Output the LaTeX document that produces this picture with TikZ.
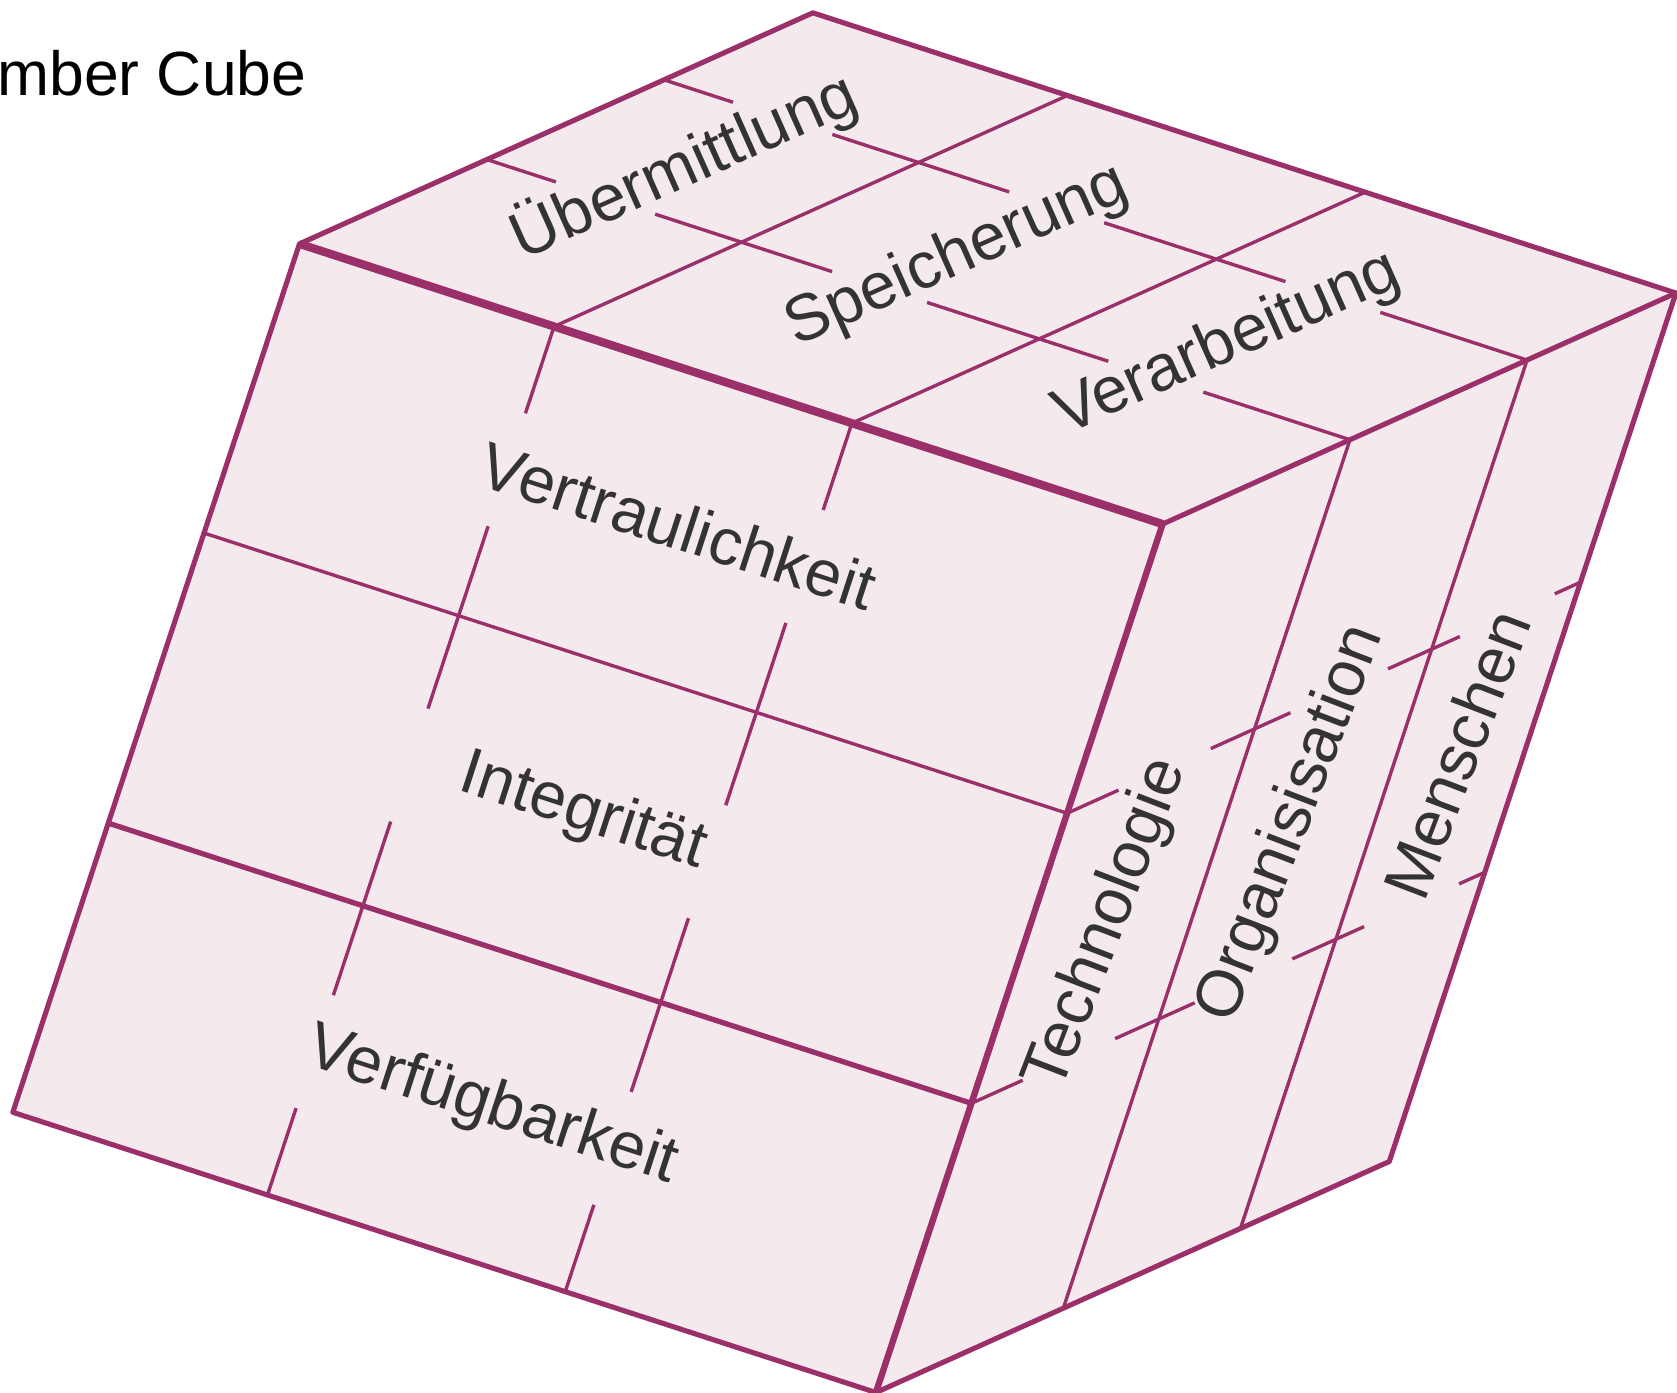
\documentclass[tikz,border=0pt]{standalone}
\usepackage{fontspec}
\setmainfont{Liberation Sans}
\definecolor{CubeLine}{HTML}{9A2F69}
\definecolor{CubeFace}{HTML}{F4EAED}
\definecolor{CubeText}{HTML}{333333}

\begin{document}
\begin{tikzpicture}[
    Face/.style={fill=CubeFace},
    Edge/.style={draw=CubeLine,line width=1.35pt,line join=round},
    Ridge/.style={draw=CubeLine,line width=2.2pt,line join=round},
    Grid/.style={draw=CubeLine,line width=0.9pt},
    Label/.style={text=CubeText,font=\fontsize{17.4}{20}\selectfont,inner sep=0pt},
    ]
  \useasboundingbox (0,0) rectangle (15.68,-13.02);

  \node[anchor=base west,inner sep=0pt,font=\fontsize{16.6}{20}\selectfont] (title) at (-0.03,-0.89) {mber Cube};

  \coordinate (TL) at (2.80,-2.28);
  \coordinate (T)  at (7.60,-0.12);
  \coordinate (R)  at (15.67,-2.74);
  \coordinate (C)  at (10.87,-4.90);
  \coordinate (RB) at (12.99,-10.86);
  \coordinate (B)  at (8.19,-13.02);
  \coordinate (BL) at (0.12,-10.40);

  \fill[Face] (TL) -- (T) -- (R) -- (RB) -- (B) -- (BL) -- cycle;

  \begin{scope}[shift={(TL)},x={(8.07cm,-2.62cm)},y={(-2.68cm,-8.12cm)}]
    \foreach \u in {0.295,0.64}
      \draw[Grid] (\u,0) -- (\u,0.1) (\u,0.23) -- (\u,0.44) (\u,0.57) -- (\u,0.77) (\u,0.9) -- (\u,1);
    \draw[Grid] (0,0.333) -- (1,0.333);
    \draw[Grid,line width=1.4pt] (0,0.667) -- (1,0.667);
    \node[Label,rotate=-18] (vertr)   at (0.494,0.165) {Vertraulichkeit};
    \node[Label,rotate=-18] (integr)  at (0.493,0.496) {Integrität};
    \node[Label,rotate=-18] (verfueg) at (0.5,0.833)   {Verfügbarkeit};
  \end{scope}

  \begin{scope}[shift={(TL)},x={(8.07cm,-2.62cm)},y={(4.80cm,2.16cm)}]
    \foreach \u in {0.295,0.64}
      \draw[Grid] (\u,0) -- (\u,1);
    \foreach \w in {0.365,0.71}
      \draw[Grid] (0,\w) -- (0.08,\w) (0.195,\w) -- (0.40,\w) (0.51,\w) -- (0.72,\w) (0.83,\w) -- (1,\w);
    \node[Label,rotate=24] (uebermit) at (0.142,0.51)  {Übermittlung};
    \node[Label,rotate=24] (speich)   at (0.462,0.505) {Speicherung};
    \node[Label,rotate=24] (verarb)   at (0.775,0.505) {Verarbeitung};
  \end{scope}

  \begin{scope}[shift={(C)},x={(4.80cm,2.16cm)},y={(-2.68cm,-8.12cm)}]
    \foreach \w in {0.365,0.71}
      \draw[Grid] (\w,0) -- (\w,1);
    \foreach \v in {0.333,0.667}
      \draw[Grid] (0,\v) -- (0.1,\v) (0.28,\v) -- (0.435,\v) (0.625,\v) -- (0.765,\v) (0.95,\v) -- (1,\v);
    \node[Label,rotate=69] (techn)  at (0.176,0.508) {Technologie};
    \node[Label,rotate=69] (organ)  at (0.522,0.484) {Organisisation};
    \node[Label,rotate=69] (mensch) at (0.846,0.49)  {Menschen};
  \end{scope}

  \draw[Edge] (TL) -- (T) -- (R) -- (RB) -- (B) -- (BL) -- cycle;
  \draw[Edge] (C) -- (R);
  \draw[Ridge] (TL) -- (C);
  \draw[Ridge,line width=1.7pt] (C) -- (B);
\end{tikzpicture}
\end{document}
